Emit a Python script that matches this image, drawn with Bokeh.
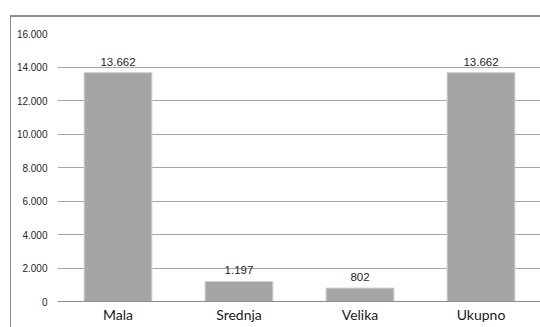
from bokeh.plotting import figure
from bokeh.models import ColumnDataSource, Range1d, FixedTicker, LabelSet
from bokeh.core.properties import value
from bokeh.embed import file_html
from bokeh.resources import INLINE

categories = ["Mala", "Srednja", "Velika", "Ukupno"]
values = [13662, 1197, 802, 13662]
y_ticks = [0, 2000, 4000, 6000, 8000, 10000, 12000, 14000, 16000]


def fmt(v):
    return f"{v:,}".replace(",", ".")


xs = list(range(len(categories)))
src = ColumnDataSource(dict(x=xs, v=values, lbl=[fmt(v) for v in values], cat=categories))

W, H = 530, 312
LEFT = 46
p = figure(width=W, height=H, output_backend="svg", toolbar_location=None,
           x_range=Range1d(-0.5, -0.5 + (W - LEFT) / 121), y_range=Range1d(0, 16000),
           min_border_left=LEFT, min_border_right=0, min_border_top=16, min_border_bottom=28)
p.margin = (15, 0, 0, 10)
p.outline_line_color = None
p.background_fill_color = "white"
p.border_fill_color = "white"
p.styles = {"border-left": "1px solid #8c8c8c", "border-top": "2px solid #8c8c8c"}

p.vbar(x="x", top="v", width=0.56, source=src, fill_color="#a5a5a5",
       line_color="#d0d0d0", line_width=1)

labels = LabelSet(x="x", y="v", text="lbl", source=src, text_align="center",
                  text_baseline="bottom", y_offset=7, text_font=value("Liberation Sans"),
                  text_font_size="11.5px", text_color="#262626")
p.add_layout(labels)

p.xgrid.grid_line_color = None
p.ygrid.grid_line_color = "#a6a6a6"
p.ygrid.ticker = FixedTicker(ticks=y_ticks)

p.yaxis.ticker = FixedTicker(ticks=y_ticks)
p.yaxis.major_label_overrides = {t: fmt(t) for t in y_ticks}
p.yaxis.axis_line_color = None
p.yaxis.major_tick_line_color = None
p.yaxis.minor_tick_line_color = None
p.yaxis.major_label_standoff = 4
p.yaxis.major_label_text_font = "Liberation Sans"
p.yaxis.major_label_text_font_size = "10px"
p.yaxis.major_label_text_color = "#262626"

p.xaxis.ticker = FixedTicker(ticks=xs)
p.xaxis.major_label_overrides = {i: c for i, c in zip(xs, categories)}
p.xaxis.axis_line_color = "#8c8c8c"
p.xaxis.major_tick_line_color = None
p.xaxis.minor_tick_line_color = None
p.xaxis.major_label_standoff = -2
p.xaxis.major_label_text_font = "Lato"
p.xaxis.major_label_text_font_size = "14px"
p.xaxis.major_label_text_color = "#1a1a1a"

open("out.html", "w").write(file_html(p, INLINE))
